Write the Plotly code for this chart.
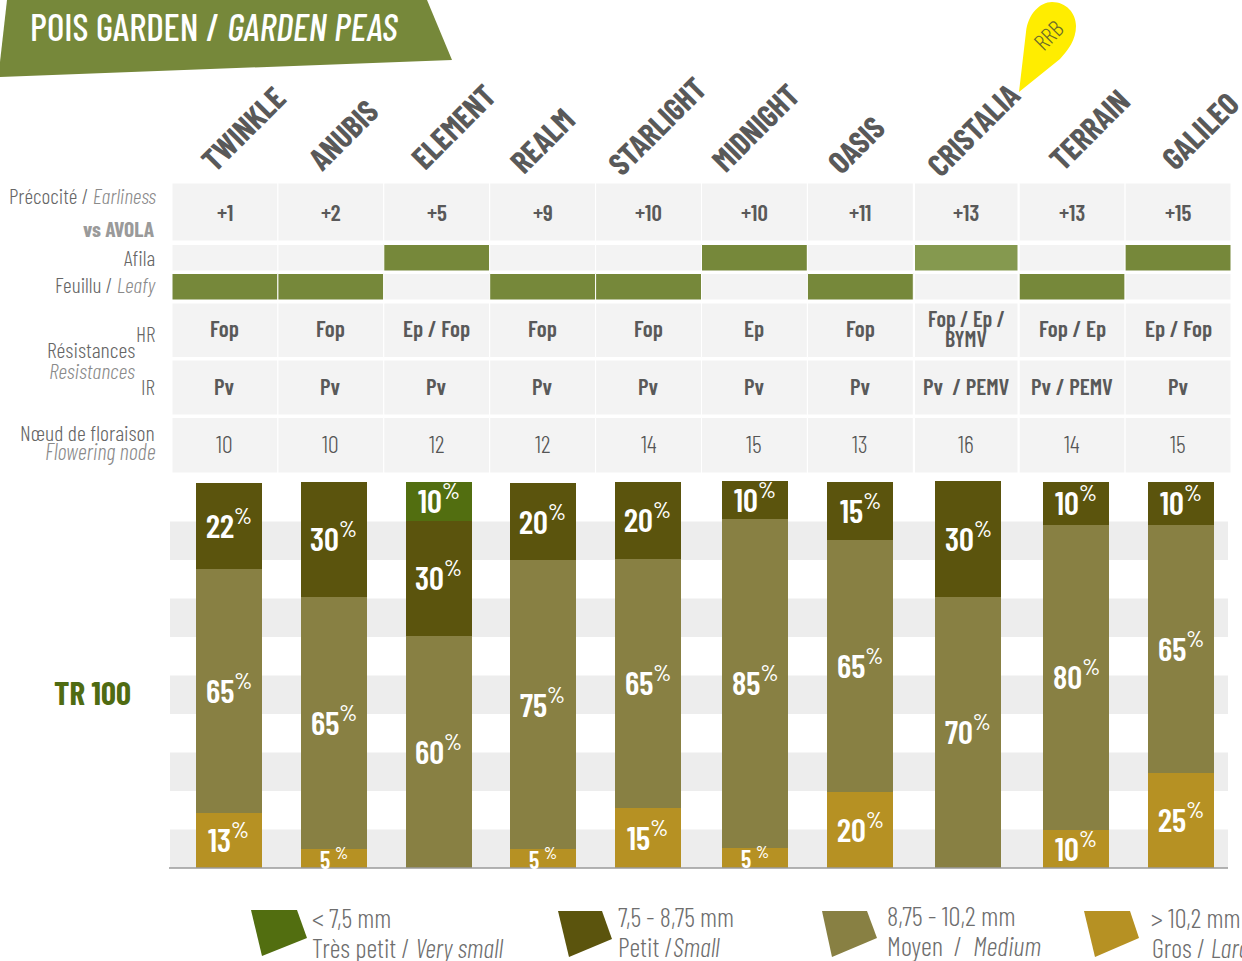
import plotly.graph_objects as go

W, H = 1242, 961
FONT = "Barlow Condensed, Roboto Condensed, sans-serif"

# ---- data ----
varieties = ["TWINKLE", "ANUBIS", "ELEMENT", "REALM", "STARLIGHT", "MIDNIGHT", "OASIS", "CRISTALIA", "TERRAIN", "GALILEO"]
earliness = ["+1", "+2", "+5", "+9", "+10", "+10", "+11", "+13", "+13", "+15"]
afila = [0, 0, 1, 0, 0, 1, 0, 1, 0, 1]
leafy = [1, 1, 0, 1, 1, 0, 1, 0, 1, 0]
res_hr = ["Fop", "Fop", "Ep / Fop", "Fop", "Fop", "Ep", "Fop", "Fop / Ep /\nBYMV", "Fop / Ep", "Ep / Fop"]
res_ir = ["Pv", "Pv", "Pv", "Pv", "Pv", "Pv", "Pv", "Pv  / PEMV", "Pv / PEMV", "Pv"]
nodes = [10, 10, 12, 12, 14, 15, 13, 16, 14, 15]

# drawn segment heights
large_h = [14.3, 4.9, 0, 4.9, 15.6, 5.2, 19.7, 0, 9.9, 24.7]
medium_h = [63.4, 65.5, 60.3, 75.1, 64.7, 85.5, 65.5, 70.4, 79.2, 64.4]
small_h = [22.3, 29.9, 29.9, 20.0, 20.0, 9.9, 15.1, 30.1, 11.2, 11.2]
vsmall_h = [0, 0, 10.1, 0, 0, 0, 0, 0, 0, 0]

# printed percentages
large_pct = [13, 5, 0, 5, 15, 5, 20, 0, 10, 25]
medium_pct = [65, 65, 60, 75, 65, 85, 65, 70, 80, 65]
small_pct = [22, 30, 30, 20, 20, 10, 15, 30, 10, 10]
vsmall_pct = [0, 0, 10, 0, 0, 0, 0, 0, 0, 0]

# ---- styles / layout ----
C_VS, C_S, C_M, C_L = "#526e10", "#5b540d", "#888043", "#b69123"
GREEN, GREEN2, CELL, BAND = "#76883a", "#85994f", "#f3f3f3", "#ededed"
GREY, LBL = "#595959", "#666666"
X0, X1 = 172.0, 1231.0
Y_TOP, Y_BOT = 481.0, 868.0
COL = (X1 - X0) / 10
BAR_W = 66 / COL
BAR_NUDGE = [4, 3, 2, 0, -1, 1, 0, 2, 4, 3]
T_UP = 2  # text metrics offset of the font, in px


def px(p):
    return p / W


def py(p):
    return 1 - p / H


def poly(points):
    return "M " + " L ".join(f"{px(a):.5f} {py(b):.5f}" for a, b in points) + " Z"


fig = go.Figure()
shapes, ann = [], []
offsets = [-BAR_W / 2 + n / COL for n in BAR_NUDGE]
base = [0.0] * 10
for name, h, pct, col in [
    ("> 10,2 mm", large_h, large_pct, C_L),
    ("8,75 - 10,2 mm", medium_h, medium_pct, C_M),
    ("7,5 - 8,75 mm", small_h, small_pct, C_S),
    ("< 7,5 mm", vsmall_h, vsmall_pct, C_VS),
]:
    fig.add_bar(
        x=varieties, y=h, name=name, width=BAR_W, offset=offsets,
        marker=dict(color=col, line=dict(width=0)),
        hoverinfo="skip", showlegend=False,
    )
    for i, (hv, p) in enumerate(zip(h, pct)):
        if p:
            small = p < 10
            ann.append(dict(
                xref="x", yref="y", x=i + BAR_NUDGE[i] / COL, y=base[i] + hv / 2, yshift=1 if small else 3,
                text=f'{p}{" " if small else ""}<sup style="font-size:15px;font-weight:500">%</sup>',
                showarrow=False, xanchor="center", yanchor="middle",
                font=dict(family=FONT, color="white", size=24 if small else 33, weight=600)))
        base[i] += hv


def rect_cells(y0, y1, colours):
    for i, c in enumerate(colours):
        inset = 1.2 / COL if i == 7 else 0
        shapes.append(dict(type="rect", xref="x", yref="paper", x0=i - .5 + inset, x1=i + .5 - inset,
                           y0=py(y1), y1=py(y0), fillcolor=c, line=dict(color="#ffffff", width=1), layer="below"))


def cell_text(y, texts, size=23, bold=True, color=GREY):
    for i, t in enumerate(texts):
        parts = str(t).split("\n")
        for k, part in enumerate(parts):
            yy = y + (k - (len(parts) - 1) / 2) * 21 - T_UP
            ann.append(dict(xref="x", yref="paper", x=i, y=py(yy), text=part,
                            showarrow=False, xanchor="center", yanchor="middle",
                            font=dict(family=FONT, size=size if len(parts) == 1 else size - 1, color=color,
                                      weight=600 if bold else 300)))


rect_cells(183, 241, [CELL] * 10)
rect_cells(244.5, 271, [(GREEN2 if i == 7 else GREEN) if v else CELL for i, v in enumerate(afila)])
rect_cells(273.5, 300, [GREEN if v else CELL for v in leafy])
rect_cells(303, 357.5, [CELL] * 10)
rect_cells(360, 415, [CELL] * 10)
rect_cells(417.5, 473, [CELL] * 10)
cell_text(214, earliness)
cell_text(330, res_hr)
cell_text(388, res_ir)
cell_text(445, nodes, bold=False, size=24, color="#555555")

# grey bands behind the bars, every other 10 units
for b in range(0, 100, 20):
    shapes.append(dict(type="rect", xref="paper", yref="y", x0=px(170), x1=px(1228), y0=b, y1=b + 10,
                       fillcolor=BAND, line=dict(width=0), layer="below"))
shapes.append(dict(type="line", xref="paper", yref="paper", x0=px(169), x1=px(1228), y0=py(868), y1=py(868),
                   line=dict(color="#9a9a9a", width=1.5)))

# banner
shapes.append(dict(type="path", xref="paper", yref="paper", layer="below", fillcolor=GREEN, line=dict(width=0),
                   path=poly([(7, 0), (427, 0), (452, 60), (0, 77), (0, 62)])))
# drop
shapes.append(dict(type="path", xref="paper", yref="paper", fillcolor="#ffed00", line=dict(width=0),
                   path="M {} {} L {} {} C {} {} {} {} {} {} C {} {} {} {} {} {} C {} {} {} {} {} {} Z".format(*[
                       f(v) for f, v in zip([px, py] * 11, [
                           1019, 92, 1026, 32, 1028, 14, 1040, 2, 1052, 2,
                           1066, 2, 1076, 13, 1076, 26, 1076, 40, 1068, 50, 1060, 59])])))
# legend swatches
for col, pts in [
    (C_VS, [(251, 910), (297, 910), (307, 938), (262, 956)]),
    (C_S, [(558, 911), (602, 911), (612, 939), (569, 957)]),
    (C_M, [(822, 911), (867, 911), (877, 938), (832, 957)]),
    (C_L, [(1084, 911), (1130, 911), (1139, 938), (1095, 957)]),
]:
    shapes.append(dict(type="path", xref="paper", yref="paper", fillcolor=col, line=dict(width=0), path=poly(pts)))


def label(x, y, text, size, color=LBL, anchor="right", angle=0, weight=300):
    dx = {"right": 2, "left": -2, "center": 0}[anchor]
    ann.append(dict(xref="paper", yref="paper", x=px(x + dx), y=py(y - (T_UP if angle == 0 else 1)), text=text,
                    showarrow=False, xanchor=anchor, yanchor="middle", textangle=angle,
                    font=dict(family=FONT, size=size, color=color, weight=weight)))


# title
label(30, 28, 'POIS GARDEN / <i>GARDEN PEAS</i>', 37.5, "#ffffff", "left", weight=500)
# rotated headers
centres = [(242, 129), (342, 135), (452, 127), (541, 141), (656, 126), (754, 128), (855, 145), (972, 130), (1088, 130), (1199, 131)]
for name, (cx, cy) in zip(varieties, centres):
    label(cx, cy, name, 31.5, GREY, "center", -45, weight=700)
label(1048, 36, "RRB", 23, "#6b6b2a", "center", -45)

IT = "#8a8a8a"
label(156, 197, f'Précocité / <i><span style="color:{IT}">Earliness</span></i>', 21.5)
label(155, 230, "vs AVOLA", 21.5, "#9a9a9a", weight=700)
label(155, 259, "Afila", 21.5)
label(156, 286, f'Feuillu / <i><span style="color:{IT}">Leafy</span></i>', 21.5)
label(155, 335, "HR", 21.5)
label(135, 351, "Résistances", 22)
label(135, 372, "<i>Resistances</i>", 22, IT)
label(155, 388, "IR", 21.5)
label(155, 434, "Nœud de floraison", 22)
label(156, 453, "<i>Flowering node</i>", 22.5, IT)
label(92, 694, "TR 100", 33, "#4f6b12", "center", weight=700)

# legend text
LEG = "#6e6e6e"
label(312, 919, "&lt; 7,5 mm", 26.5, LEG, "left")
label(312, 949, "Très petit / <i>Very small</i>", 26.5, LEG, "left")
label(618, 918, "7,5 - 8,75 mm", 26.5, LEG, "left")
label(618, 948, "Petit /<i>Small</i>", 26.5, LEG, "left")
label(887, 917, "8,75 - 10,2 mm", 27, LEG, "left")
label(887, 947, "Moyen  /  <i>Medium</i>", 27, LEG, "left")
label(1151, 919, "&gt; 10,2 mm", 26.5, LEG, "left")
label(1152, 949, "Gros / <i>Large</i>", 26.5, LEG, "left")

fig.update_layout(
    width=W, height=H, margin=dict(l=0, r=0, t=0, b=0), autosize=False,
    paper_bgcolor="white", plot_bgcolor="rgba(0,0,0,0)", barmode="stack", showlegend=False,
    font=dict(family=FONT),
    xaxis=dict(type="category", categoryorder="array", categoryarray=varieties, domain=[px(X0), px(X1)],
               range=[-0.5, 9.5], visible=False, fixedrange=True),
    yaxis=dict(domain=[py(Y_BOT), py(Y_TOP)], range=[0, (Y_BOT - Y_TOP) / 3.85], visible=False, fixedrange=True),
    shapes=shapes, annotations=ann,
)
fig.write_html("out.html", config=dict(displayModeBar=False),
               post_script="document.body.style.margin='0';document.body.style.overflow='hidden';")
